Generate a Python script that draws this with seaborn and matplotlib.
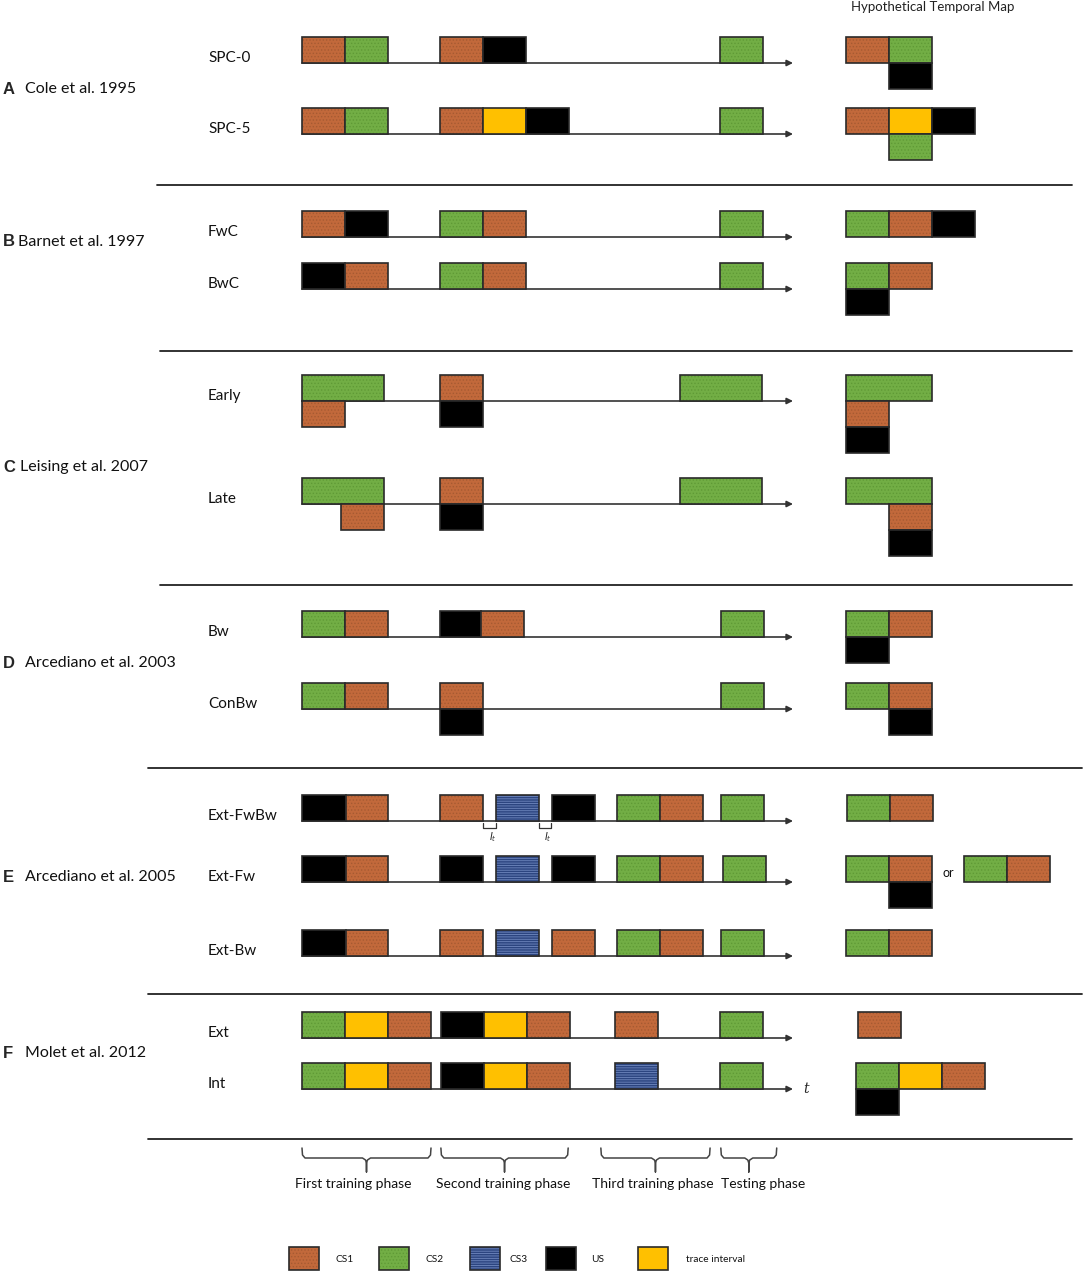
"""
Esquemas de los diseños experimentales y mapas temporales hipotéticos.
"""

import matplotlib
matplotlib.use("Agg")
import matplotlib.pyplot as plt
import seaborn as sns

# Estímulos y leyenda
stim_names = ["CS1", "CS2", "CS3", "US", "trace interval"]

# Grupos (letra, referencia)
group_letters = ["A", "B", "C", "D", "E", "F"]
group_titles = ["Cole et al. 1995", "Barnet et al. 1997", "Leising et al. 2007",
                "Arcediano et al. 2003", "Arcediano et al. 2005", "Molet et al. 2012"]

# Filas: nombre y grupo al que pertenecen
row_names = ["SPC-0", "SPC-5", "FwC", "BwC", "Early", "Late", "Bw", "ConBw",
             "Ext-FwBw", "Ext-Fw", "Ext-Bw", "Ext", "Int"]
row_group = [0, 0, 1, 1, 2, 2, 3, 3, 4, 4, 4, 5, 5]

# Eventos (estímulo, inicio, duración, carril) en unidades de bloque
spc0_events = [("CS1", 0, 1, 0), ("CS2", 1, 1, 0), ("CS1", 3.2, 1, 0), ("US", 4.2, 1, 0),
               ("CS2", 9.72, 1, 0)]
spc5_events = [("CS1", 0, 1, 0), ("CS2", 1, 1, 0), ("CS1", 3.2, 1, 0),
               ("trace interval", 4.2, 1, 0), ("US", 5.2, 1, 0), ("CS2", 9.72, 1, 0)]
fwc_events = [("CS1", 0, 1, 0), ("US", 1, 1, 0), ("CS2", 3.2, 1, 0), ("CS1", 4.2, 1, 0),
              ("CS2", 9.72, 1, 0)]
bwc_events = [("US", 0, 1, 0), ("CS1", 1, 1, 0), ("CS2", 3.2, 1, 0), ("CS1", 4.2, 1, 0),
              ("CS2", 9.72, 1, 0)]
early_events = [("CS2", 0, 1.9, 0), ("CS1", 0, 1, 1), ("CS1", 3.2, 1, 0), ("US", 3.2, 1, 1),
                ("CS2", 8.79, 1.9, 0)]
late_events = [("CS2", 0, 1.9, 0), ("CS1", 0.9, 1, 1), ("CS1", 3.2, 1, 0), ("US", 3.2, 1, 1),
               ("CS2", 8.79, 1.9, 0)]
bw_events = [("CS2", 0, 1, 0), ("CS1", 1, 1, 0), ("US", 3.22, 0.95, 0), ("CS1", 4.17, 1, 0),
             ("CS2", 9.74, 1, 0)]
conbw_events = [("CS2", 0, 1, 0), ("CS1", 1, 1, 0), ("CS1", 3.22, 1, 0), ("US", 3.22, 1, 1),
                ("CS2", 9.74, 1, 0)]
ext_fwbw_events = [("US", 0, 1.03, 0), ("CS1", 1.03, 0.98, 0), ("CS1", 3.22, 1, 0),
                   ("CS3", 4.5, 1, 0), ("US", 5.81, 1, 0), ("CS2", 7.33, 1, 0),
                   ("CS1", 8.33, 1, 0), ("CS2", 9.74, 1, 0)]
ext_fw_events = [("US", 0, 1.03, 0), ("CS1", 1.03, 0.98, 0), ("US", 3.22, 1, 0),
                 ("CS3", 4.5, 1, 0), ("US", 5.81, 1, 0), ("CS2", 7.33, 1, 0),
                 ("CS1", 8.33, 1, 0), ("CS2", 9.79, 1, 0)]
ext_bw_events = [("US", 0, 1.03, 0), ("CS1", 1.03, 0.98, 0), ("CS1", 3.22, 1, 0),
                 ("CS3", 4.5, 1, 0), ("CS1", 5.81, 1, 0), ("CS2", 7.33, 1, 0),
                 ("CS1", 8.33, 1, 0), ("CS2", 9.74, 1, 0)]
f_ext_events = [("CS2", 0, 1, 0), ("trace interval", 1, 1, 0), ("CS1", 2, 1, 0),
                ("US", 3.23, 1, 0), ("trace interval", 4.23, 1, 0), ("CS1", 5.23, 1, 0),
                ("CS1", 7.28, 1, 0), ("CS2", 9.72, 1, 0)]
f_int_events = [("CS2", 0, 1, 0), ("trace interval", 1, 1, 0), ("CS1", 2, 1, 0),
                ("US", 3.23, 1, 0), ("trace interval", 4.23, 1, 0), ("CS1", 5.23, 1, 0),
                ("CS3", 7.28, 1, 0), ("CS2", 9.72, 1, 0)]

# Mapas temporales hipotéticos
spc0_map = [("CS1", 0, 1, 0), ("CS2", 1, 1, 0), ("US", 1, 1, 1)]
spc5_map = [("CS1", 0, 1, 0), ("trace interval", 1, 1, 0), ("US", 2, 1, 0), ("CS2", 1, 1, 1)]
fwc_map = [("CS2", 0, 1, 0), ("CS1", 1, 1, 0), ("US", 2, 1, 0)]
bwc_map = [("CS2", 0, 1, 0), ("CS1", 1, 1, 0), ("US", 0, 1, 1)]
early_map = [("CS2", 0, 2, 0), ("CS1", 0, 1, 1), ("US", 0, 1, 2)]
late_map = [("CS2", 0, 2, 0), ("CS1", 1, 1, 1), ("US", 1, 1, 2)]
bw_map = [("CS2", 0, 1, 0), ("CS1", 1, 1, 0), ("US", 0, 1, 1)]
conbw_map = [("CS2", 0, 1, 0), ("CS1", 1, 1, 0), ("US", 1, 1, 1)]
ext_fwbw_map = [("CS2", 0.02, 1, 0), ("CS1", 1.02, 1, 0)]
ext_fw_map = [("CS2", 0, 1, 0), ("CS1", 1, 1, 0), ("US", 1, 1, 1),
              ("CS2", 2.74, 1, 0), ("CS1", 3.74, 1, 0)]
ext_bw_map = [("CS2", 0, 1, 0), ("CS1", 1, 1, 0)]
f_ext_map = [("CS1", 0.28, 1, 0)]
f_int_map = [("CS2", 0.23, 1, 0), ("trace interval", 1.23, 1, 0), ("CS1", 2.23, 1, 0),
             ("US", 0.23, 1, 1)]

row_events = [spc0_events, spc5_events, fwc_events, bwc_events, early_events, late_events,
              bw_events, conbw_events, ext_fwbw_events, ext_fw_events, ext_bw_events,
              f_ext_events, f_int_events]
row_maps = [spc0_map, spc5_map, fwc_map, bwc_map, early_map, late_map, bw_map, conbw_map,
            ext_fwbw_map, ext_fw_map, ext_bw_map, f_ext_map, f_int_map]

# Fases (nombre, inicio, fin) en unidades de bloque
phase_names = ["First training phase", "Second training phase", "Third training phase",
               "Testing phase"]
phase_start = [0, 3.23, 6.95, 9.74]
phase_end = [3.0, 6.19, 9.49, 11.04]

# ---- Estilo y maquetación (píxeles) ----
W, H = 1084, 1273
X0 = 302          # inicio de la línea temporal
MAP_X0 = 846      # inicio del mapa temporal
UNIT = 43         # ancho de un bloque
LANE = 26         # alto de un bloque
LINE_END = 793
row_top = [37, 108, 211, 263, 375, 478, 611, 683, 795, 856, 930, 1012, 1063]
group_y = [89, 242, 467, 663, 877, 1053]
group_text_x = [25, 18, 20, 25, 25, 25]
dividers = [(185, 157, 1072), (351, 160, 1072), (585, 160, 1072),
            (768, 148, 1082), (994, 148, 1082), (1139, 148, 1072)]
phase_label_x = [353, 503, 653, 763]

face = {"CS1": "#c2693b", "CS2": "#72ae45", "CS3": "#2c4580", "US": "#000000",
        "trace interval": "#ffc000"}
hatch_col = {"CS1": "#a65a32", "CS2": "#5f9a36", "CS3": "#7088bf"}
hatches = {"CS1": ".....", "CS2": ".....", "CS3": "-------"}
edge = "#2a2a2a"

sns.set_theme(style="white")
plt.rcParams["font.family"] = ["Lato", "DejaVu Sans"]
plt.rcParams["hatch.linewidth"] = 0.6

fig = plt.figure(figsize=(W / 100, H / 100), dpi=100)
ax = fig.add_axes([0, 0, 1, 1])
ax.set_xlim(0, W)
ax.set_ylim(H, 0)
ax.axis("off")


def draw_block(stim, x, y, w, h):
    c = face[stim]
    if stim in hatches:
        ax.bar(x, h, width=w, bottom=y, align="edge", color=c,
               edgecolor=hatch_col[stim], hatch=hatches[stim], linewidth=0)
    else:
        ax.bar(x, h, width=w, bottom=y, align="edge", color=c, linewidth=0)
    ax.bar(x, h, width=w, bottom=y, align="edge", fill=False, edgecolor=edge,
           linewidth=1.2)


def draw_events(events, x_origin, top):
    for stim, onset, dur, lane in events:
        draw_block(stim, x_origin + onset * UNIT, top + lane * LANE, dur * UNIT, LANE)


def draw_brace(x0, x1, y_top=1148, y_mid=1158, y_tip=1172):
    xm = (x0 + x1) / 2
    xs = [x0, x0 + 0.5, x0 + 3, xm - 4, xm - 1, xm, xm, xm, xm + 1, xm + 4, x1 - 3, x1 - 0.5, x1]
    ys = [y_top, y_mid - 3, y_mid, y_mid, y_mid + 2, y_mid + 5, y_tip, y_mid + 5,
          y_mid + 2, y_mid, y_mid, y_mid - 3, y_top]
    ax.plot(xs, ys, color="#444444", lw=1.1, solid_capstyle="round")


# Filas de cada diseño
for i, name in enumerate(row_names):
    top = row_top[i]
    base = top + LANE
    ax.annotate("", xy=(LINE_END, base), xytext=(X0, base),
                arrowprops=dict(arrowstyle="-|>", color="#333333", lw=1.2,
                                mutation_scale=9, shrinkA=0, shrinkB=0), zorder=1)
    draw_events(row_events[i], X0, top)
    draw_events(row_maps[i], MAP_X0, top)
    ax.text(208, base - 5, name, fontsize=11, va="center", ha="left", color="#111111")

# "or" del mapa alternativo
ax.text(MAP_X0 + 2.37 * UNIT, row_top[9] + 17, "or", fontsize=9, ha="center",
        va="center", color="#111111")

# Intervalos I_t
for xa in [X0 + 4.22 * UNIT, X0 + 5.5 * UNIT]:
    xb = xa + 0.28 * UNIT
    ax.plot([xa, xa, xb, xb], [823, 828, 828, 823], color="#333333", lw=0.9)
    ax.text((xa + xb) / 2 + 3, 837, r"$I_t$", fontsize=7, ha="center", va="center")

# Eje t
ax.text(806, row_top[12] + LANE, "t", fontsize=10, style="italic", ha="center",
        va="center", family="DejaVu Serif")

# Grupos
for g, letter in enumerate(group_letters):
    ax.text(3, group_y[g], letter, fontsize=12, fontweight="bold", ha="left",
            va="center", family="Liberation Sans")
    ax.text(group_text_x[g], group_y[g], group_titles[g], fontsize=11.5, ha="left",
            va="center", color="#111111")

# Separadores
for y, xa, xb in dividers:
    ax.plot([xa, xb], [y, y], color="#222222", lw=1.3)

ax.text(933, 7, "Hypothetical Temporal Map", fontsize=9.5, ha="center", va="center",
        color="#222222")

# Llaves de fases
for name, s, e, lx in zip(phase_names, phase_start, phase_end, phase_label_x):
    xa, xb = X0 + s * UNIT, X0 + e * UNIT
    draw_brace(xa, xb)
    ax.text(lx, 1184, name, fontsize=10, ha="center", va="center", color="#111111")

# Leyenda
legend_box_x = [289, 379, 470, 546, 638]
legend_text_x = [336, 426, 510, 591, 686]
for stim, bx, tx in zip(stim_names, legend_box_x, legend_text_x):
    draw_block(stim, bx, 1247, 30, 23)
    ax.text(tx, 1259, stim, fontsize=7.3, ha="left", va="center", color="#111111")

fig.savefig("out.png", dpi=100)
plt.close(fig)
